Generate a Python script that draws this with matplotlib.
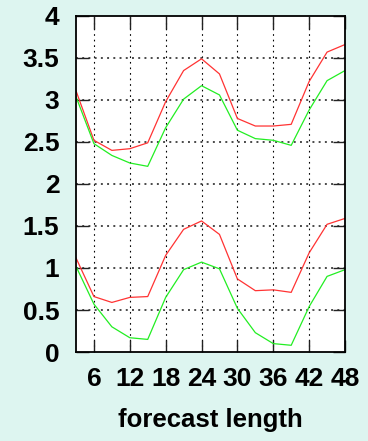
import matplotlib
matplotlib.use("Agg")
import matplotlib.pyplot as plt
import numpy as np

# forecast length (hours)
lead = [3, 6, 9, 12, 15, 18, 21, 24, 27, 30, 33, 36, 39, 42, 45, 48]

red_upper   = [3.11, 2.52, 2.40, 2.42, 2.49, 2.98, 3.35, 3.49, 3.31, 2.78, 2.69, 2.69, 2.71, 3.22, 3.57, 3.66]
green_upper = [3.04, 2.48, 2.34, 2.25, 2.21, 2.67, 3.01, 3.17, 3.06, 2.64, 2.54, 2.52, 2.46, 2.88, 3.23, 3.35]
red_lower   = [1.12, 0.66, 0.59, 0.65, 0.66, 1.15, 1.46, 1.56, 1.40, 0.87, 0.73, 0.74, 0.71, 1.18, 1.52, 1.59]
green_lower = [1.02, 0.57, 0.30, 0.17, 0.15, 0.65, 0.98, 1.07, 0.99, 0.52, 0.23, 0.10, 0.08, 0.54, 0.90, 0.98]

xticks = [6, 12, 18, 24, 30, 36, 42, 48]
yticks = [0, 0.5, 1, 1.5, 2, 2.5, 3, 3.5, 4]
ytick_labels = ["0", "0.5", "1", "1.5", "2", "2.5", "3", "3.5", "4"]

bg = "#ddf5f0"
red = "#ff3333"
green = "#22ee22"

plt.rcParams['font.family'] = ['Liberation Sans', 'DejaVu Sans']
plt.rcParams['font.weight'] = 'bold'

fig = plt.figure(figsize=(3.68, 4.41), dpi=100, facecolor=bg)
ax = fig.add_axes([0.2065, 0.2018, 0.731, 0.762])
ax.set_facecolor("white")

ax.plot(lead, red_upper, color=red, lw=0.9)
ax.plot(lead, green_upper, color=green, lw=0.9)
ax.plot(lead, red_lower, color=red, lw=0.9)
ax.plot(lead, green_lower, color=green, lw=0.9)

ax.set_xlim(3, 48)
ax.set_ylim(0, 4)
ax.set_xticks(xticks)
ax.set_yticks(yticks)
ax.set_yticklabels(ytick_labels)

# grid: thin black dotted verticals, heavier grey dotted horizontals
for x in xticks[:-1]:
    ax.axvline(x, color="black", lw=0.8, ls=(0, (1.5, 3.5)), zorder=0.5)
for y in yticks[1:-1]:
    ax.axhline(y, color="#4a4a4a", lw=1.4, ls=(0, (1.0, 2.2)), zorder=0.5)

ax.tick_params(direction="in", length=9, width=1.0, color="#222222",
               top=True, right=True, labelsize=19)
ax.tick_params(axis="y", pad=12)
ax.tick_params(axis="x", pad=11)
for lab in ax.get_xticklabels() + ax.get_yticklabels():
    lab.set_fontweight("bold")

for s in ax.spines.values():
    s.set_linewidth(1.3)
    s.set_color("black")

ax.set_xlabel("forecast length", fontsize=18.5, fontweight="bold", labelpad=12)

fig.savefig("out.png", dpi=100, facecolor=bg)
